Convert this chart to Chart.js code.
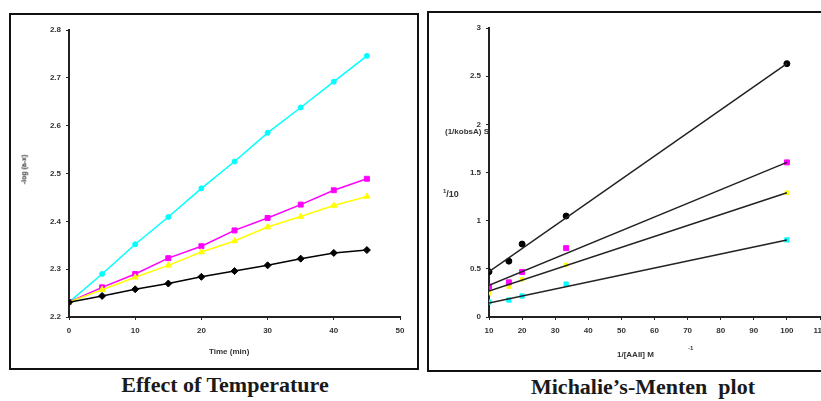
<!DOCTYPE html>
<html>
<head>
<meta charset="UTF-8">
<script src="https://cdn.jsdelivr.net/npm/chart.js"></script>
<style>
  html, body { margin: 0; padding: 0; background: #fff; }
  body { width: 821px; height: 401px; position: relative; overflow: hidden; font-family: "Liberation Sans", Arial, sans-serif; }
  .box { position: absolute; border: 2px solid #111; box-sizing: border-box; }
  .wrap { position: absolute; }
  .lbl { position: absolute; font-size: 8px; font-weight: bold; color: #333; white-space: nowrap; }
  .cap { position: absolute; font-family: "Liberation Serif", "Times New Roman", serif; font-weight: bold; font-size: 22px; color: #1a1a1a; white-space: nowrap; transform: translateX(-50%); }
</style>
</head>
<body>
<div class="box" style="left:9px;top:13px;width:410px;height:357px;"></div>
<div class="box" style="left:427px;top:11px;width:410px;height:361px;"></div>

<div class="wrap" style="left:12px;top:15px;width:404px;height:351px;"><canvas id="c1"></canvas></div>
<div class="wrap" style="left:430px;top:14px;width:420px;height:355px;"><canvas id="c2"></canvas></div>

<div class="lbl" style="left:9px;top:166px;transform:rotate(-90deg);font-size:7px;">-log (a-x)</div>
<div class="lbl" style="left:209px;top:347px;">Time (min)</div>
<div class="lbl" style="left:445px;top:127px;">(1/kobsA) S</div>
<div class="lbl" style="left:443px;top:188px;font-size:9px;"><sup style="font-size:6px">1</sup>/10</div>
<div class="lbl" style="left:617px;top:350px;">1/[AAII] M</div>
<div class="lbl" style="left:688px;top:345px;font-size:6px;">-1</div>

<div class="cap" style="left:225px;top:372px;">Effect of Temperature</div>
<div class="cap" style="left:643px;top:374px;">Michalie’s-Menten&nbsp; plot</div>

<script>
// Effect of Temperature
var timeMin = [0, 5, 10, 15, 20, 25, 30, 35, 40, 45];
var cyanT   = [2.231, 2.29, 2.352, 2.409, 2.469, 2.525, 2.585, 2.638, 2.692, 2.746];
var pinkT   = [2.231, 2.262, 2.29, 2.323, 2.348, 2.381, 2.407, 2.435, 2.465, 2.489];
var yellowT = [2.231, 2.257, 2.283, 2.308, 2.336, 2.359, 2.388, 2.41, 2.433, 2.452];
var blackT  = [2.231, 2.244, 2.258, 2.27, 2.284, 2.296, 2.308, 2.322, 2.334, 2.34];

// Michaelis-Menten (double reciprocal)
var invConc = [10, 16, 20, 33.3, 100];
var blackM  = [0.47, 0.58, 0.757, 1.048, 2.63];
var pinkM   = [0.315, 0.36, 0.467, 0.715, 1.605];
var yellowM = [0.248, 0.315, 0.39, 0.54, 1.29];
var cyanM   = [0.155, 0.176, 0.218, 0.342, 0.8];
var fitX    = [10, 100];
var blackFit  = [0.47, 2.63];
var pinkFit   = [0.33, 1.605];
var yellowFit = [0.27, 1.29];
var cyanFit   = [0.145, 0.8];

function pts(xs, ys) {
  var out = [];
  for (var i = 0; i < xs.length; i++) out.push({ x: xs[i], y: ys[i] });
  return out;
}

var tickFont = { family: 'Liberation Sans', size: 8, weight: 'bold' };

function axis(min, max, step, fitSize, isY, fmt) {
  return {
    type: 'linear', min: min, max: max,
    ticks: { stepSize: step, color: '#333', font: tickFont, padding: isY ? 5 : 6,
             callback: fmt || function (v) { return v; } },
    grid: { drawOnChartArea: false, tickLength: 3, tickColor: '#222' },
    border: { color: '#222', width: 2 },
    afterFit: function (s) { if (isY) s.width = fitSize; else s.height = fitSize; }
  };
}

function lineSet(data, color, style, r) {
  return {
    data: data, borderColor: color, backgroundColor: color, borderWidth: 1.5,
    pointStyle: style, pointRadius: r, pointBorderWidth: 1, showLine: true, tension: 0
  };
}

new Chart(document.getElementById('c1'), {
  type: 'scatter',
  data: {
    datasets: [
      lineSet(pts(timeMin, blackT), '#000000', 'rectRot', 3.5),
      lineSet(pts(timeMin, yellowT), '#ffff00', 'triangle', 3.5),
      lineSet(pts(timeMin, pinkT), '#ff00ff', 'rect', 3.5),
      lineSet(pts(timeMin, cyanT), '#00ffff', 'circle', 2.5)
    ]
  },
  options: {
    responsive: true, maintainAspectRatio: false, animation: false,
    layout: { padding: { top: 15, right: 16, left: 0, bottom: 0 } },
    plugins: { legend: { display: false }, tooltip: { enabled: false } },
    scales: {
      x: axis(0, 50, 10, 49, false),
      y: axis(2.2, 2.8, 0.1, 57, true, function (v) { return v.toFixed(1); })
    }
  }
});

function fitSet(ys) {
  return { data: pts(fitX, ys), borderColor: '#222', borderWidth: 1.5, pointRadius: 0, showLine: true };
}
function dotSet(ys, color, style, r) {
  return { data: pts(invConc, ys), borderColor: color, backgroundColor: color, pointStyle: style, pointRadius: r, showLine: false };
}

new Chart(document.getElementById('c2'), {
  type: 'scatter',
  data: {
    datasets: [
      fitSet(blackFit), fitSet(pinkFit), fitSet(yellowFit), fitSet(cyanFit),
      dotSet(blackM, '#000000', 'circle', 3),
      dotSet(pinkM, '#ff00ff', 'rect', 3.5),
      dotSet(yellowM, '#ffff00', 'rect', 2.5),
      dotSet(cyanM, '#00ffff', 'rect', 3)
    ]
  },
  options: {
    responsive: true, maintainAspectRatio: false, animation: false,
    layout: { padding: { top: 14, right: 30, left: 0, bottom: 0 } },
    plugins: { legend: { display: false }, tooltip: { enabled: false } },
    scales: {
      x: axis(10, 110, 10, 52, false),
      y: axis(0, 3, 0.5, 59, true, function (v) { return String(v); })
    }
  }
});
</script>
</body>
</html>
